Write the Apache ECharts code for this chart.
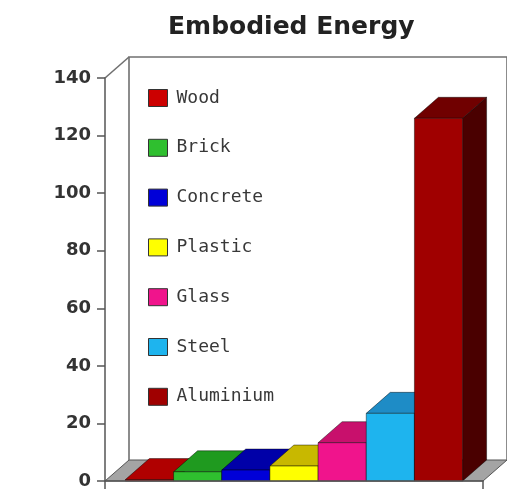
<!DOCTYPE html>
<html>
<head>
<meta charset="utf-8">
<title>Embodied Energy</title>
<script src="https://cdn.jsdelivr.net/npm/echarts@6/dist/echarts.min.js"></script>
<style>
  html, body { margin: 0; padding: 0; background: #ffffff; }
  #chart { width: 507px; height: 494px; }
</style>
</head>
<body>
<div id="chart"></div>
<script>
// Materials and their embodied energy
const materials = ['Wood', 'Brick', 'Concrete', 'Plastic', 'Glass', 'Steel', 'Aluminium'];
const energy = [0.5, 3.2, 3.8, 5.2, 13.3, 23.5, 126];
const group = ['Embodied Energy'];
const yMax = 140;
const yStep = 20;

// Face colours: front, top, side
const frontColors = ['#cc0000', '#2fbf2f', '#0000d8', '#ffff00', '#f0148c', '#1eb4ee', '#a00000'];
const topColors   = ['#b00000', '#1f9a1f', '#0000a8', '#c8b800', '#c8106c', '#1e8cc6', '#700000'];
const sideColors  = ['#700000', '#136313', '#00006e', '#8a8000', '#8a0a4a', '#135e86', '#4a0000'];

// Depth of the pseudo-3D box (x shift, y shift in pixels)
const DX = 24, DY = -21;
const EDGE_GAP = 0.054;   // fraction of the band left empty at each side

const chart = echarts.init(document.getElementById('chart'), null, { renderer: 'canvas' });

// Back wall, floor and the receding top edge of the axis
function renderFrame(params, api) {
  const bw = api.size([1, 0])[0];
  const c0 = api.coord([0, 0]);
  const cTop = api.coord([0, yMax]);
  const xl = c0[0] - bw / 2, xr = c0[0] + bw / 2;
  const yb = c0[1], yt = cTop[1];
  const line = { stroke: '#707070', lineWidth: 1.6, fill: 'none' };
  return {
    type: 'group',
    children: [
      { type: 'polygon', shape: { points: [[xl, yb], [xl + DX, yb + DY], [xr + DX, yb + DY], [xr, yb]] },
        style: { fill: '#a4a4a4', stroke: '#555555', lineWidth: 1 } },
      { type: 'polyline', shape: { points: [[xl + DX, yb + DY], [xl + DX, yt + DY], [xr + DX, yt + DY], [xr + DX, yb + DY]] },
        style: line },
      { type: 'line', shape: { x1: xl, y1: yt, x2: xl + DX, y2: yt + DY }, style: line }
    ]
  };
}

// One box per material, placed side by side inside the single band
function makeBarRenderer(i) {
  return function (params, api) {
    const bw = api.size([1, 0])[0];
    const base = api.coord([api.value(0), 0]);
    const top = api.coord([api.value(0), api.value(1)]);
    const inner = bw * (1 - 2 * EDGE_GAP);
    const w = inner / materials.length;
    const x0 = base[0] - bw / 2 + bw * EDGE_GAP + i * w;
    const x1 = x0 + w;
    const yb = base[1], yt = top[1];
    const edge = 'rgba(0,0,0,0.55)';
    return {
      type: 'group',
      children: [
        { type: 'polygon', shape: { points: [[x1, yt], [x1 + DX, yt + DY], [x1 + DX, yb + DY], [x1, yb]] },
          style: { fill: sideColors[i], stroke: edge, lineWidth: 0.8 } },
        { type: 'polygon', shape: { points: [[x0, yt], [x0 + DX, yt + DY], [x1 + DX, yt + DY], [x1, yt]] },
          style: { fill: topColors[i], stroke: edge, lineWidth: 0.8 } },
        { type: 'rect', shape: { x: x0, y: yt, width: w, height: yb - yt },
          style: { fill: frontColors[i], stroke: edge, lineWidth: 0.8 } }
      ]
    };
  };
}

const series = [{
  type: 'custom',
  name: '__frame',
  silent: true,
  renderItem: renderFrame,
  data: [[0, 0]],
  z: 1
}];

materials.forEach(function (m, i) {
  series.push({
    type: 'custom',
    name: m,
    renderItem: makeBarRenderer(i),
    itemStyle: { color: frontColors[i] },
    data: [[0, energy[i]]],
    z: 2
  });
});

chart.setOption({
  animation: false,
  backgroundColor: '#ffffff',
  title: {
    text: 'Embodied Energy',
    left: 163,
    top: 10,
    textStyle: { fontFamily: 'DejaVu Sans', fontWeight: 'bold', fontSize: 25, color: '#222222' }
  },
  legend: {
    data: materials,
    orient: 'vertical',
    left: 143,
    top: 84,
    itemWidth: 19,
    itemHeight: 17,
    itemGap: 31.8,
    icon: 'rect',
    selectedMode: false,
    itemStyle: { borderColor: '#333333', borderWidth: 1 },
    textStyle: { fontFamily: 'DejaVu Sans Mono', fontSize: 18, lineHeight: 17, color: '#383838', padding: [0, 0, 0, 4] }
  },
  grid: { left: 105, right: 24, top: 78, bottom: 13, containLabel: false },
  xAxis: {
    type: 'category',
    data: group,
    axisLine: { show: true, lineStyle: { color: '#555555', width: 1.5 } },
    axisTick: { show: true, length: 8, lineStyle: { color: '#555555', width: 1.5 } },
    axisLabel: { show: false },
    splitLine: { show: false },
    z: 5
  },
  yAxis: {
    type: 'value',
    min: 0,
    max: yMax,
    interval: yStep,
    axisLine: { show: true, lineStyle: { color: '#555555', width: 1.5 } },
    axisTick: { show: true, length: 8, lineStyle: { color: '#555555', width: 1.5 } },
    axisLabel: { fontFamily: 'DejaVu Sans', fontWeight: 'bold', fontSize: 18, color: '#333333', margin: 14 },
    splitLine: { show: false },
    z: 5
  },
  series: series
});
</script>
</body>
</html>
